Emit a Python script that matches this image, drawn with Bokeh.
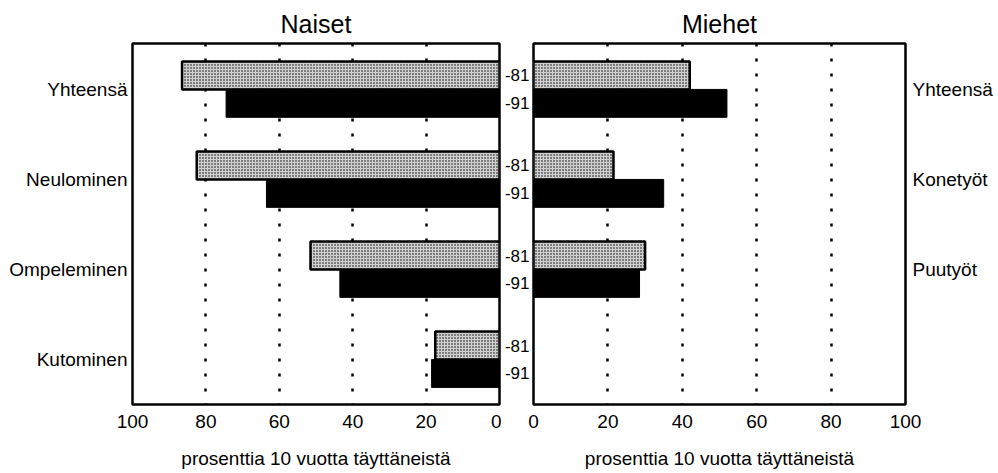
from bokeh.plotting import figure
from bokeh.models import Range1d, FixedTicker, LinearAxis
from bokeh.layouts import row
from bokeh.embed import file_html
from bokeh.resources import INLINE

# ---- data ----
naiset_cats = ["Yhteensä", "Neulominen", "Ompeleminen", "Kutominen"]
naiset_81 = [86.5, 82.5, 51.5, 17.5]
naiset_91 = [74.5, 63.5, 43.5, 18.5]

miehet_cats = ["Yhteensä", "Konetyöt", "Puutyöt"]
miehet_81 = [42, 21.5, 30]
miehet_91 = [52, 35, 28.5]

year_labels = ["-81", "-91"]
x_ticks = [0, 20, 40, 60, 80, 100]
grid_ticks = [20, 40, 60, 80]
x_title = "prosenttia 10 vuotta täyttäneistä"

FONT = "Liberation Sans"
OFF = 0.155
H = 0.31
n_groups = len(naiset_cats)
pos_81 = [i - OFF for i in range(n_groups)]
pos_91 = [i + OFF for i in range(n_groups)]


def base_fig(title, xr, frame_w, mbl, mbr):
    p = figure(frame_width=frame_w, frame_height=361, x_range=xr,
               y_range=Range1d(3.5, -0.51), output_backend="svg",
               toolbar_location=None, min_border_left=mbl, min_border_right=mbr,
               min_border_top=43, min_border_bottom=40)
    p.title.text = title
    p.title.align = "center"
    p.title.text_font = FONT
    p.title.text_font_size = "25px"
    p.title.text_font_style = "normal"
    p.title.text_color = "black"
    p.title.standoff = 11
    p.outline_line_color = "black"
    p.outline_line_width = 2.5
    p.outline_line_alpha = 1
    p.ygrid.visible = False
    p.xgrid.ticker = FixedTicker(ticks=grid_ticks)
    p.xgrid.grid_line_color = "black"
    p.xgrid.grid_line_width = 2.5
    p.xgrid.grid_line_dash = "3 12"
    p.xgrid.grid_line_alpha = 1
    ax = p.xaxis[0]
    ax.ticker = FixedTicker(ticks=x_ticks)
    ax.axis_label = x_title
    ax.axis_label_text_font = FONT
    ax.axis_label_text_font_size = "19px"
    ax.axis_label_text_font_style = "normal"
    ax.axis_label_text_color = "black"
    ax.axis_label_standoff = 17
    ax.major_label_text_font = FONT
    ax.major_label_text_font_size = "19px"
    ax.major_label_text_color = "black"
    ax.major_label_standoff = 10
    ax.major_tick_out = 0
    ax.major_tick_in = 0
    ax.minor_tick_out = 0
    ax.minor_tick_in = 0
    ax.major_tick_line_color = None
    ax.minor_tick_line_color = None
    ax.axis_line_color = None
    p.background_fill_color = "white"
    return p


def style_y(ax, size, standoff):
    ax.major_label_text_font = FONT
    ax.major_label_text_font_size = size
    ax.major_label_text_color = "black"
    ax.major_label_standoff = standoff
    ax.major_tick_out = 0
    ax.major_tick_in = 0
    ax.minor_tick_out = 0
    ax.minor_tick_in = 0
    ax.major_tick_line_color = None
    ax.minor_tick_line_color = None
    ax.axis_line_color = None


STIPPLE = dict(fill_color="#d0d0d0", hatch_pattern="dot", hatch_color="black",
               hatch_scale=3, hatch_weight=1.1, line_color="black", line_width=2.5)

# ---- left: Naiset ----
left = base_fig("Naiset", Range1d(100, 0), 367, 132, 2)
left.hbar(y=pos_81, left=0, right=naiset_81, height=H, **STIPPLE)
left.hbar(y=pos_91, left=0, right=naiset_91, height=H, fill_color="black",
          line_color="black")
left.yaxis.ticker = FixedTicker(ticks=list(range(n_groups)))
left.yaxis.major_label_overrides = {i: c for i, c in enumerate(naiset_cats)}
style_y(left.yaxis[0], "19px", 5)

# ---- right: Miehet ----
right = base_fig("Miehet", Range1d(0, 100), 372, 32, 0)
m = len(miehet_cats)
right.hbar(y=pos_81[:m], left=0, right=miehet_81, height=H, **STIPPLE)
right.hbar(y=pos_91[:m], left=0, right=miehet_91, height=H, fill_color="black",
           line_color="black")
yr_ticks = []
yr_over = {}
for a, b in zip(pos_81, pos_91):
    yr_ticks += [a, b]
    yr_over[a] = year_labels[0]
    yr_over[b] = year_labels[1]
right.yaxis.ticker = FixedTicker(ticks=yr_ticks)
right.yaxis.major_label_overrides = yr_over
style_y(right.yaxis[0], "17px", 4)

rax = LinearAxis(ticker=FixedTicker(ticks=list(range(m))),
                 major_label_overrides={i: c for i, c in enumerate(miehet_cats)})
style_y(rax, "19px", 7)
right.add_layout(rax, "right")

layout = row(left, right, spacing=0)
open("out.html", "w").write(file_html(layout, INLINE))
